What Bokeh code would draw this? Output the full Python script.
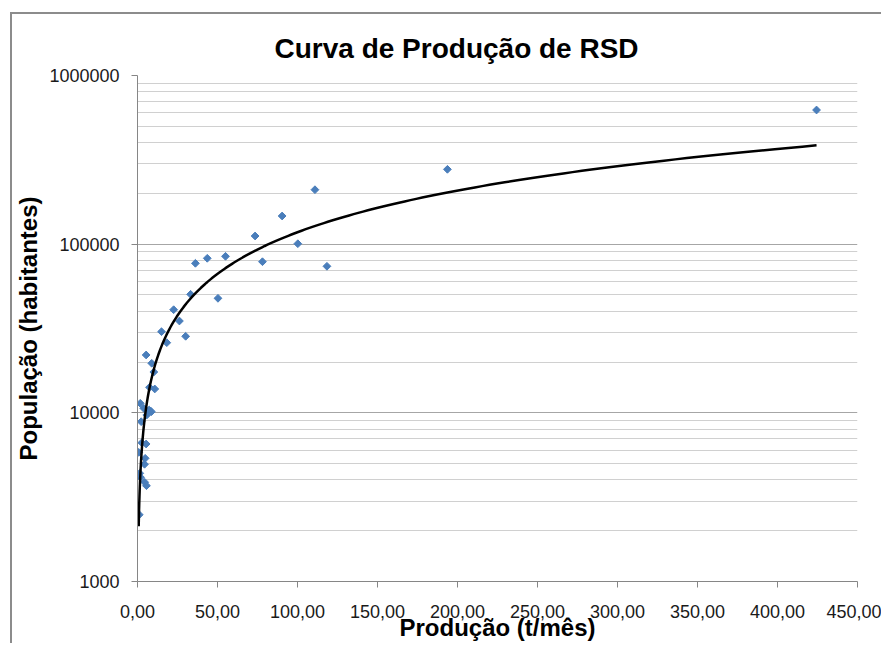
import numpy as np
from bokeh.plotting import figure
from bokeh.models import Range1d, FixedTicker, ColumnDataSource, Column
from bokeh.embed import file_html
from bokeh.resources import INLINE

# ---- data ----
producao = [2.7, 5.4, 0.75, 4.8, 4.4, 1.4, 1.9, 4.5, 5.6, 1.1,
            1.7, 3.9, 7.3, 8.7, 5.8, 2.3, 7.5, 10.8, 10.2, 8.9, 5.4,
            15.0, 18.3, 22.6, 26.2, 30.1, 33.2, 36.2, 43.6, 50.3, 55.0,
            73.5, 78.1, 90.4, 100.2, 110.9, 118.4, 193.7, 424.4]
populacao = [6650, 6535, 5830, 5375, 4955, 4380, 4147, 3875, 3698, 2489,
             11390, 10640, 10390, 10160, 9710, 8860, 14170, 13850, 17460, 19670, 22030,
             30270, 26050, 40870, 35030, 28430, 50440, 77000, 82470, 47750, 84730,
             111800, 78700, 146900, 100600, 210300, 73930, 277800, 624300]

x_ticks = [0, 50, 100, 150, 200, 250, 300, 350, 400, 450]
x_tick_labels = ["0,00", "50,00", "100,00", "150,00", "200,00", "250,00",
                 "300,00", "350,00", "400,00", "450,00"]
y_ticks = [1000, 10000, 100000, 1000000]
y_tick_labels = ["1000", "10000", "100000", "1000000"]
y_minor = [m * d for d in [1000, 10000, 100000] for m in range(2, 10)]

title_text = "Curva de Produção de RSD"
x_label = "Produção (t/mês)"
y_label = "População (habitantes)"

# ---- power trend line (least squares in log-log, as a spreadsheet does) ----
lx = np.log(np.array(producao))
ly = np.log(np.array(populacao))
b, ln_a = np.polyfit(lx, ly, 1)
tx = np.geomspace(min(producao), max(producao), 300)
ty = np.exp(ln_a) * tx ** b

FONT = "Liberation Sans"

p = figure(width=869, height=629,
           x_range=Range1d(0, 450), y_range=Range1d(1000, 1000000),
           y_axis_type="log", output_backend="svg", toolbar_location=None,
           min_border_left=123, min_border_right=24,
           min_border_top=61, min_border_bottom=62)
p.outline_line_color = None
p.background_fill_color = "white"
p.border_fill_color = "white"

p.title.text = title_text
p.title.text_font = FONT
p.title.text_font_size = "28px"
p.title.text_font_style = "bold"
p.title.text_color = "#000000"
p.title.align = "left"
p.title.offset = 137
p.title.standoff = 23

src = ColumnDataSource(dict(x=producao, y=populacao))
p.scatter("x", "y", source=src, marker="square", angle=np.pi / 4, size=5.5,
          fill_color="#4A7EBB", line_color="#4A7EBB")
p.line(tx, ty, line_color="black", line_width=2.5)

# x axis
xt = FixedTicker(ticks=x_ticks)
p.xaxis.ticker = xt
p.xaxis.major_label_overrides = {t: l for t, l in zip(x_ticks, x_tick_labels)}
# y axis
yt = FixedTicker(ticks=y_ticks, minor_ticks=y_minor)
p.yaxis.ticker = yt
p.ygrid.ticker = yt
p.yaxis.major_label_overrides = {t: l for t, l in zip(y_ticks, y_tick_labels)}

for ax in (p.xaxis[0], p.yaxis[0]):
    ax.axis_line_color = "#868686"
    ax.axis_line_width = 1
    ax.major_tick_line_color = "#868686"
    ax.major_tick_out = 6
    ax.major_tick_in = 0
    ax.minor_tick_out = 0
    ax.minor_tick_in = 0
    ax.major_label_text_font = FONT
    ax.major_label_text_font_size = "18px"
    ax.major_label_text_color = "#1a1a1a"
    ax.axis_label_text_font = FONT
    ax.axis_label_text_font_size = "24px"
    ax.axis_label_text_font_style = "bold"
    ax.axis_label_text_color = "#000000"

p.xaxis.axis_label = x_label
p.yaxis.axis_label = y_label
p.xaxis.major_label_standoff = 17
p.yaxis.major_label_standoff = 12
p.xaxis.axis_label_standoff = -7
p.yaxis.axis_label_standoff = 4

p.xgrid.visible = False
p.ygrid.grid_line_color = "#a6a6a6"
p.ygrid.grid_line_width = 1
p.ygrid.minor_grid_line_color = "#d0d0d0"
p.ygrid.minor_grid_line_width = 1

layout = Column(p, styles={"margin-left": "10px", "margin-top": "12px",
                           "border-left": "2px solid #8c8c8c",
                           "border-top": "2px solid #8c8c8c"})

open("out.html", "w").write(file_html(layout, INLINE))
